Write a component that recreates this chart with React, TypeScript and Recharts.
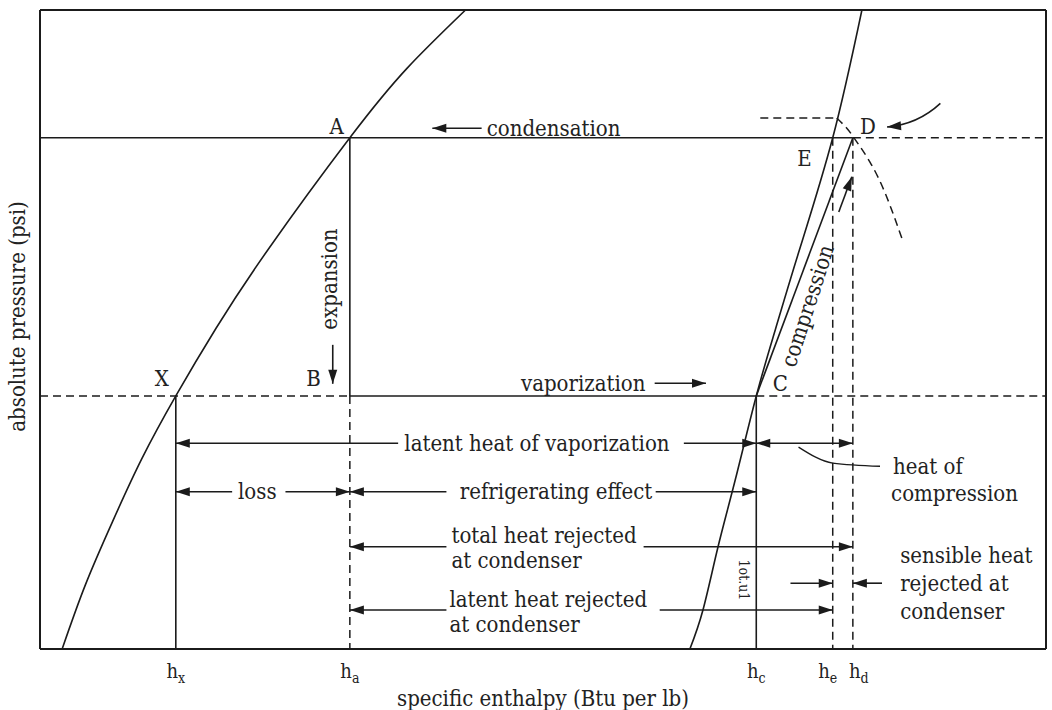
import React from "react";
import {
  ComposedChart,
  Line,
  XAxis,
  YAxis,
  ReferenceLine,
  ReferenceDot,
} from "recharts";

// Schematic pressure–enthalpy diagram, both axes on a 0–100 scale
const H_X = 13.5;
const H_A = 30.8;
const H_C = 71.2;
const H_E = 78.8;
const H_D = 80.8;
const P_COND = 80;
const P_EVAP = 39.6;

const tickValues = [H_X, H_A, H_C, H_E, H_D];
const tickSubscripts = ["x", "a", "c", "e", "d"];

// saturated liquid line
const liquidLine = [
  { h: 2.2, p: 0 },
  { h: 4.5, p: 10.0 },
  { h: 7.2, p: 19.9 },
  { h: 10.1, p: 29.7 },
  { h: 13.5, p: 39.6 },
  { h: 17.5, p: 50.2 },
  { h: 22.8, p: 62.8 },
  { h: 30.8, p: 80 },
  { h: 36.5, p: 90.9 },
  { h: 42.3, p: 100 },
];

// saturated vapour line
const vaporLine = [
  { h: 64.6, p: 0 },
  { h: 65.9, p: 6.1 },
  { h: 67.4, p: 16 },
  { h: 69.1, p: 26.4 },
  { h: 71.2, p: 39.6 },
  { h: 73.1, p: 50.0 },
  { h: 75.4, p: 62.0 },
  { h: 78.8, p: 80 },
  { h: 81.7, p: 100 },
];

// dashed curve through D
const dischargeCurve = [
  { h: 79.2, p: 83.1 },
  { h: 80.2, p: 81.5 },
  { h: 81.0, p: 79.8 },
  { h: 82.5, p: 76.2 },
  { h: 84.1, p: 71.0 },
  { h: 85.8, p: 63.7 },
];

// leader to the "heat of compression" note
const compressionLeader = [
  { h: 75.4, p: 31.6 },
  { h: 78.8, p: 29.1 },
  { h: 83.5, p: 28.6 },
];

type Pt = [number, number];

const solidSegments: [Pt, Pt][] = [
  [[0, P_COND], [H_D, P_COND]],
  [[H_A, P_COND], [H_A, P_EVAP]],
  [[H_A, P_EVAP], [H_C, P_EVAP]],
  [[H_X, P_EVAP], [H_X, 0]],
  [[H_C, P_EVAP], [H_C, 0]],
  [[H_C, P_EVAP], [H_D, P_COND]],
];

const frameSegments: [Pt, Pt][] = [
  [[0, 100], [100, 100]],
  [[100, 0], [100, 100]],
];

const dashedSegments: [Pt, Pt][] = [
  [[H_D, P_COND], [100, P_COND]],
  [[0, P_EVAP], [H_A, P_EVAP]],
  [[H_C, P_EVAP], [100, P_EVAP]],
  [[H_A, P_EVAP], [H_A, 0]],
  [[H_E, P_COND], [H_E, 0]],
  [[H_D, P_COND], [H_D, 0]],
  [[71.6, 83.1], [79.2, 83.1]],
];

// arrows: tail -> tip
const arrows: [Pt, Pt][] = [
  [[35.6, 32.2], [H_X, 32.2]],
  [[64.0, 32.2], [H_C, 32.2]],
  [[19.1, 24.6], [H_X, 24.6]],
  [[24.4, 24.6], [H_A, 24.6]],
  [[40.4, 24.6], [H_A, 24.6]],
  [[61.2, 24.6], [H_C, 24.6]],
  [[40.4, 16], [H_A, 16]],
  [[60.0, 16], [H_D, 16]],
  [[74.6, 10.3], [H_E, 10.3]],
  [[83.7, 10.3], [H_D, 10.3]],
  [[40.4, 6.1], [H_A, 6.1]],
  [[61.6, 6.1], [H_E, 6.1]],
  [[43.9, 81.5], [39.0, 81.5]],
  [[61.1, 41.6], [66.2, 41.6]],
  [[29.1, 47.6], [29.1, 41.5]],
  [[79.4, 68.4], [80.7, 73.9]],
];

const doubleArrows: [Pt, Pt][] = [[[H_C, 32.2], [H_D, 32.2]]];

const curvedArrows: [Pt, Pt][] = [[[89.5, 85.4], [84.2, 81.7]]];

type Note = { text: string; h: number; p: number; anchor?: string; angle?: number; size?: number };

const notes: Note[] = [
  { text: "A", h: 29.5, p: 81.7 },
  { text: "condensation", h: 44.4, p: 81.5, anchor: "start" },
  { text: "D", h: 82.3, p: 81.8 },
  { text: "E", h: 76.0, p: 76.8 },
  { text: "X", h: 12.1, p: 42.3 },
  { text: "B", h: 27.2, p: 42.3 },
  { text: "C", h: 73.6, p: 41.6 },
  { text: "vaporization", h: 54.0, p: 41.6 },
  { text: "expansion", h: 28.8, p: 57.9, angle: -90 },
  { text: "compression", h: 76.3, p: 53.7, angle: -72 },
  { text: "latent heat of vaporization", h: 49.4, p: 32.2 },
  { text: "heat of", h: 84.8, p: 28.6, anchor: "start" },
  { text: "compression", h: 84.6, p: 24.4, anchor: "start" },
  { text: "loss", h: 21.6, p: 24.7 },
  { text: "refrigerating effect", h: 51.3, p: 24.6 },
  { text: "total heat rejected", h: 40.9, p: 17.8, anchor: "start" },
  { text: "at condenser", h: 40.9, p: 13.8, anchor: "start" },
  { text: "sensible heat", h: 85.5, p: 14.6, anchor: "start" },
  { text: "rejected at", h: 85.5, p: 10.2, anchor: "start" },
  { text: "condenser", h: 85.5, p: 5.8, anchor: "start" },
  { text: "latent heat rejected", h: 40.7, p: 7.8, anchor: "start" },
  { text: "at condenser", h: 40.7, p: 3.8, anchor: "start" },
  { text: "1ot.u1", h: 70.0, p: 10.8, angle: 90, size: 14 },
];

const INK = "#1b1b1b";
const FONT = "'DejaVu Serif Condensed', 'DejaVu Serif', serif";
const FONT_SIZE = 22;
const TICK_SHIFT: Record<string, number> = { e: -5, d: 6 };

function head(x: number, y: number, fromX: number, fromY: number) {
  const ang = Math.atan2(y - fromY, x - fromX);
  const len = 14;
  const half = 4.5;
  const bx = x - len * Math.cos(ang);
  const by = y - len * Math.sin(ang);
  const px = -Math.sin(ang) * half;
  const py = Math.cos(ang) * half;
  return (
    <polygon
      points={`${x},${y} ${bx + px},${by + py} ${bx - px},${by - py}`}
      fill={INK}
    />
  );
}

const arrowShape = (both: boolean) => (props: any) => {
  const { x1, y1, x2, y2 } = props;
  return (
    <g>
      <line x1={x1} y1={y1} x2={x2} y2={y2} stroke={INK} strokeWidth={1.6} />
      {head(x2, y2, x1, y1)}
      {both && head(x1, y1, x2, y2)}
    </g>
  );
};

const curvedShape = (props: any) => {
  const { x1, y1, x2, y2 } = props;
  const mx = (x1 + x2) / 2;
  const my = (y1 + y2) / 2;
  const dx = x2 - x1;
  const dy = y2 - y1;
  const d = Math.hypot(dx, dy);
  const cx = mx + (dy / d) * 10;
  const cy = my - (dx / d) * 10;
  return (
    <g>
      <path d={`M${x1},${y1} Q${cx},${cy} ${x2},${y2}`} fill="none" stroke={INK} strokeWidth={1.6} />
      {head(x2, y2, cx, cy)}
    </g>
  );
};

const noteShape = (n: Note) => (props: any) => {
  const { cx, cy } = props;
  return (
    <text
      x={cx}
      y={cy}
      textAnchor={n.anchor ?? "middle"}
      dominantBaseline="central"
      fontFamily={FONT}
      fontSize={n.size ?? FONT_SIZE}
      fill="#222"
      transform={n.angle ? `rotate(${n.angle}, ${cx}, ${cy})` : undefined}
    >
      {n.text}
    </text>
  );
};

const EnthalpyTick = (props: any) => {
  const { x, y, payload } = props;
  const sub = tickSubscripts[tickValues.indexOf(payload.value)];
  return (
    <text
      x={x + (TICK_SHIFT[sub] ?? 0)}
      y={y + 29}
      textAnchor="middle"
      fontFamily={FONT}
      fontSize={20}
      fill="#222"
    >
      h
      <tspan fontSize={14} dy={5}>
        {sub}
      </tspan>
    </text>
  );
};

const PressureLabel = (props: any) => {
  const { viewBox } = props;
  const cx = viewBox.x + 17;
  const cy = viewBox.y + viewBox.height / 2 - 13;
  return (
    <text
      x={cx}
      y={cy}
      textAnchor="middle"
      dominantBaseline="central"
      fontFamily={FONT}
      fontSize={FONT_SIZE}
      fill="#222"
      transform={`rotate(-90, ${cx}, ${cy})`}
    >
      absolute pressure (psi)
    </text>
  );
};

export default function App() {
  return (
    <div style={{ position: "absolute", left: 0, top: 0, width: 1052, height: 710, background: "#fff" }}>
      <ComposedChart width={1052} height={710} margin={{ top: 10, right: 6, bottom: 0, left: 0 }}>
        <XAxis
          type="number"
          dataKey="h"
          domain={[0, 100]}
          allowDataOverflow
          ticks={tickValues}
          interval={0}
          tick={<EnthalpyTick />}
          tickLine={false}
          tickSize={0}
          tickMargin={0}
          height={61}
          axisLine={{ stroke: INK, strokeWidth: 2 }}
          label={{
            value: "specific enthalpy (Btu per lb)",
            position: "insideBottom",
            offset: 4,
            fontFamily: FONT,
            fontSize: FONT_SIZE,
            fill: "#222",
          }}
        />
        <YAxis
          type="number"
          domain={[0, 100]}
          allowDataOverflow
          tick={false}
          tickLine={false}
          width={40}
          axisLine={{ stroke: INK, strokeWidth: 2 }}
          label={<PressureLabel />}
        />

        {frameSegments.map(([a, b], i) => (
          <ReferenceLine
            key={`f${i}`}
            segment={[{ x: a[0], y: a[1] }, { x: b[0], y: b[1] }]}
            stroke={INK}
            strokeWidth={2}
            ifOverflow="visible"
          />
        ))}
        {solidSegments.map(([a, b], i) => (
          <ReferenceLine
            key={`s${i}`}
            segment={[{ x: a[0], y: a[1] }, { x: b[0], y: b[1] }]}
            stroke={INK}
            strokeWidth={1.6}
            ifOverflow="visible"
          />
        ))}
        {dashedSegments.map(([a, b], i) => (
          <ReferenceLine
            key={`d${i}`}
            segment={[{ x: a[0], y: a[1] }, { x: b[0], y: b[1] }]}
            stroke={INK}
            strokeWidth={1.5}
            strokeDasharray="8 5"
            ifOverflow="visible"
          />
        ))}

        <Line data={liquidLine} dataKey="p" type="natural" stroke={INK} strokeWidth={1.6} dot={false} isAnimationActive={false} />
        <Line data={vaporLine} dataKey="p" type="natural" stroke={INK} strokeWidth={1.6} dot={false} isAnimationActive={false} />
        <Line
          data={dischargeCurve}
          dataKey="p"
          type="natural"
          stroke={INK}
          strokeWidth={1.5}
          strokeDasharray="8 5"
          dot={false}
          isAnimationActive={false}
        />
        <Line data={compressionLeader} dataKey="p" type="monotone" stroke={INK} strokeWidth={1.3} dot={false} isAnimationActive={false} />

        {arrows.map(([a, b], i) => (
          <ReferenceLine
            key={`a${i}`}
            segment={[{ x: a[0], y: a[1] }, { x: b[0], y: b[1] }]}
            shape={arrowShape(false)}
            ifOverflow="visible"
          />
        ))}
        {doubleArrows.map(([a, b], i) => (
          <ReferenceLine
            key={`b${i}`}
            segment={[{ x: a[0], y: a[1] }, { x: b[0], y: b[1] }]}
            shape={arrowShape(true)}
            ifOverflow="visible"
          />
        ))}
        {curvedArrows.map(([a, b], i) => (
          <ReferenceLine
            key={`c${i}`}
            segment={[{ x: a[0], y: a[1] }, { x: b[0], y: b[1] }]}
            shape={curvedShape}
            ifOverflow="visible"
          />
        ))}

        {notes.map((n, i) => (
          <ReferenceDot key={`n${i}`} x={n.h} y={n.p} r={0} shape={noteShape(n)} ifOverflow="visible" />
        ))}
      </ComposedChart>
    </div>
  );
}
